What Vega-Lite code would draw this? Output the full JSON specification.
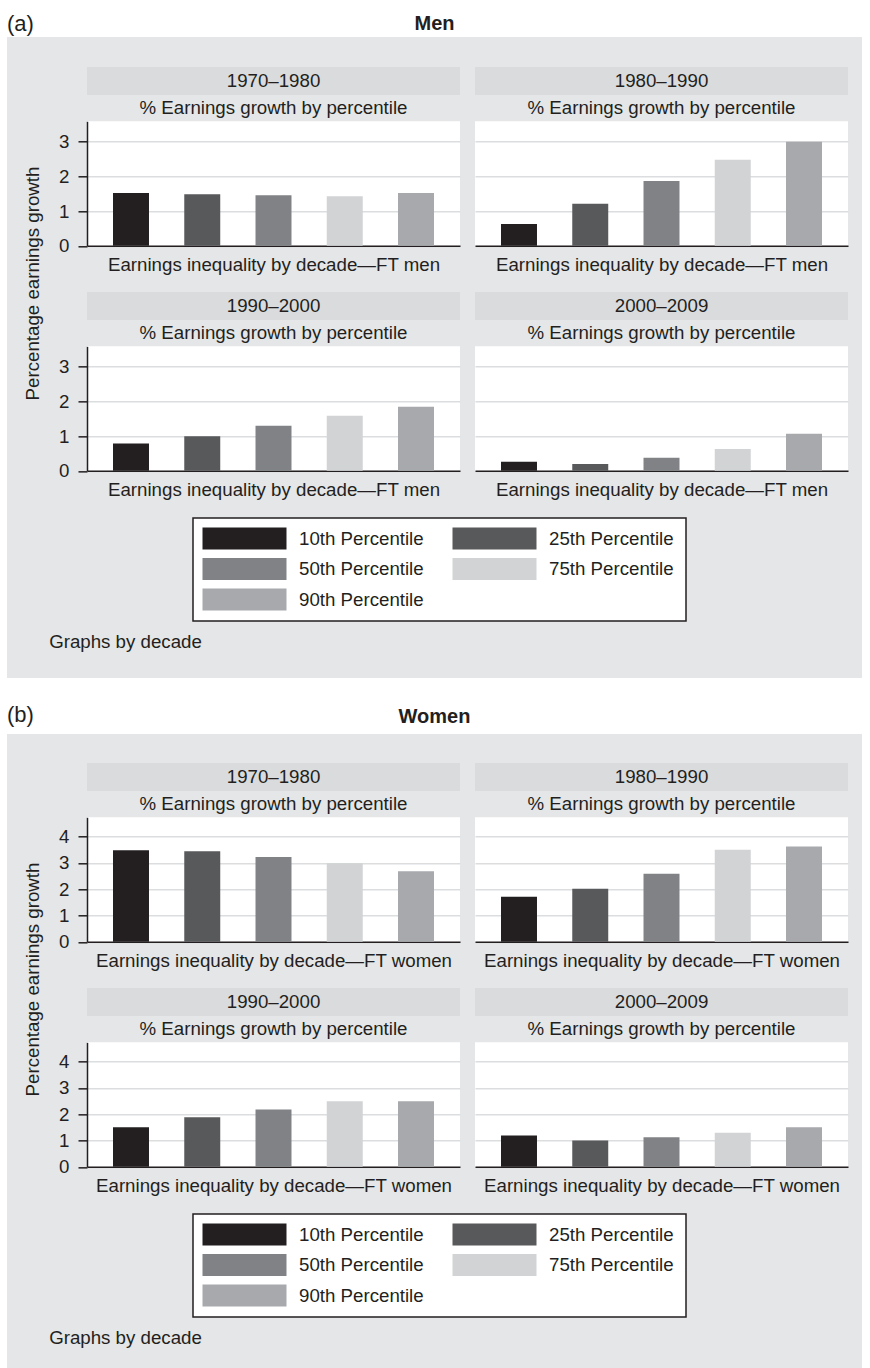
{
  "$schema": "https://vega.github.io/schema/vega-lite/v6.json",
  "background": "#e5e6e8",
  "padding": 0,
  "datasets": {
    "earn": [
      {"sex": "Men", "decade": "1970–1980", "percentile": "10th Percentile", "growth": 1.52},
      {"sex": "Men", "decade": "1970–1980", "percentile": "25th Percentile", "growth": 1.49},
      {"sex": "Men", "decade": "1970–1980", "percentile": "50th Percentile", "growth": 1.46},
      {"sex": "Men", "decade": "1970–1980", "percentile": "75th Percentile", "growth": 1.43},
      {"sex": "Men", "decade": "1970–1980", "percentile": "90th Percentile", "growth": 1.52},
      {"sex": "Men", "decade": "1980–1990", "percentile": "10th Percentile", "growth": 0.63},
      {"sex": "Men", "decade": "1980–1990", "percentile": "25th Percentile", "growth": 1.21},
      {"sex": "Men", "decade": "1980–1990", "percentile": "50th Percentile", "growth": 1.87},
      {"sex": "Men", "decade": "1980–1990", "percentile": "75th Percentile", "growth": 2.48},
      {"sex": "Men", "decade": "1980–1990", "percentile": "90th Percentile", "growth": 3.0},
      {"sex": "Men", "decade": "1990–2000", "percentile": "10th Percentile", "growth": 0.79},
      {"sex": "Men", "decade": "1990–2000", "percentile": "25th Percentile", "growth": 1.0},
      {"sex": "Men", "decade": "1990–2000", "percentile": "50th Percentile", "growth": 1.3},
      {"sex": "Men", "decade": "1990–2000", "percentile": "75th Percentile", "growth": 1.59},
      {"sex": "Men", "decade": "1990–2000", "percentile": "90th Percentile", "growth": 1.85},
      {"sex": "Men", "decade": "2000–2009", "percentile": "10th Percentile", "growth": 0.26},
      {"sex": "Men", "decade": "2000–2009", "percentile": "25th Percentile", "growth": 0.2},
      {"sex": "Men", "decade": "2000–2009", "percentile": "50th Percentile", "growth": 0.38},
      {"sex": "Men", "decade": "2000–2009", "percentile": "75th Percentile", "growth": 0.63},
      {"sex": "Men", "decade": "2000–2009", "percentile": "90th Percentile", "growth": 1.07},
      {"sex": "Women", "decade": "1970–1980", "percentile": "10th Percentile", "growth": 3.48},
      {"sex": "Women", "decade": "1970–1980", "percentile": "25th Percentile", "growth": 3.44},
      {"sex": "Women", "decade": "1970–1980", "percentile": "50th Percentile", "growth": 3.22},
      {"sex": "Women", "decade": "1970–1980", "percentile": "75th Percentile", "growth": 2.98},
      {"sex": "Women", "decade": "1970–1980", "percentile": "90th Percentile", "growth": 2.68},
      {"sex": "Women", "decade": "1980–1990", "percentile": "10th Percentile", "growth": 1.71},
      {"sex": "Women", "decade": "1980–1990", "percentile": "25th Percentile", "growth": 2.02},
      {"sex": "Women", "decade": "1980–1990", "percentile": "50th Percentile", "growth": 2.59},
      {"sex": "Women", "decade": "1980–1990", "percentile": "75th Percentile", "growth": 3.5},
      {"sex": "Women", "decade": "1980–1990", "percentile": "90th Percentile", "growth": 3.62},
      {"sex": "Women", "decade": "1990–2000", "percentile": "10th Percentile", "growth": 1.5},
      {"sex": "Women", "decade": "1990–2000", "percentile": "25th Percentile", "growth": 1.88},
      {"sex": "Women", "decade": "1990–2000", "percentile": "50th Percentile", "growth": 2.18},
      {"sex": "Women", "decade": "1990–2000", "percentile": "75th Percentile", "growth": 2.49},
      {"sex": "Women", "decade": "1990–2000", "percentile": "90th Percentile", "growth": 2.49},
      {"sex": "Women", "decade": "2000–2009", "percentile": "10th Percentile", "growth": 1.19},
      {"sex": "Women", "decade": "2000–2009", "percentile": "25th Percentile", "growth": 1.0},
      {"sex": "Women", "decade": "2000–2009", "percentile": "50th Percentile", "growth": 1.12},
      {"sex": "Women", "decade": "2000–2009", "percentile": "75th Percentile", "growth": 1.3},
      {"sex": "Women", "decade": "2000–2009", "percentile": "90th Percentile", "growth": 1.5}
    ]
  },
  "config": {
    "font": "Liberation Sans",
    "view": {"stroke": null},
    "text": {"font": "Liberation Sans", "fontSize": 18.7, "color": "#231f20"},
    "title": {"font": "Liberation Sans", "fontSize": 18.7, "fontWeight": "normal", "color": "#231f20", "offset": 4, "frame": "group"},
    "axis": {
      "labelFont": "Liberation Sans", "titleFont": "Liberation Sans",
      "labelFontSize": 18.7, "titleFontSize": 18.7, "titleFontWeight": "normal",
      "labelColor": "#231f20", "titleColor": "#231f20",
      "domainColor": "#231f20", "domainWidth": 1.5,
      "tickColor": "#231f20", "tickWidth": 1.5, "tickSize": 9, "labelPadding": 9,
      "gridColor": "#dcdddf", "gridWidth": 1.5
    },
    "axisX": {"labels": false, "ticks": false, "grid": false, "titlePadding": 10}
  },
  "spacing": 0,
  "hconcat": [
    {"width": 7, "height": 1368, "view": {"fill": "white"}, "data": {"values": []}, "mark": "point"},
    {
      "spacing": 0,
      "resolve": {"legend": {"color": "independent"}},
      "vconcat": [
        {
          "width": 855, "height": 37, "view": {"fill": "white"},
          "data": {"values": [{}]},
          "layer": [
            {"mark": {"type": "text", "text": "(a)", "align": "left", "fontSize": 22, "dy": 5.6},
             "encoding": {"x": {"datum": 0, "type": "quantitative", "scale": {"domain": [0, 1]}, "axis": null}}},
            {"mark": {"type": "text", "text": "Men", "fontSize": 20, "fontWeight": "bold", "dy": 5.2}, "encoding": {}}
          ]
        },
        {
          "spacing": 0,
          "resolve": {"legend": {"color": "independent"}},
          "vconcat": [
            {"width": 10, "height": 30, "data": {"values": []}, "mark": "point"},
            {
              "spacing": 0,
              "hconcat": [
                {"width": 51, "height": 433, "data": {"values": [{}]}, "mark": {"type": "text", "text": "Percentage  earnings growth", "angle": 270}, "encoding": {}},
                {
                  "spacing": 17.05,
                  "vconcat": [
                    {
                      "spacing": 15,
                      "hconcat": [
                        {
                          "spacing": 3.3,
                          "vconcat": [
                            {"width": 373, "height": 28, "view": {"fill": "#dadbdd"}, "data": {"values": [{"label": "1970–1980"}]}, "mark": "text", "encoding": {"text": {"field": "label"}}},
                            {
                              "width": 373, "height": 124.5, "view": {"fill": "white"},
                              "title": "% Earnings growth by percentile",
                              "data": {"name": "earn"},
                              "transform": [{"filter": "datum.sex === 'Men' && datum.decade === '1970–1980'"}],
                              "mark": "bar",
                              "encoding": {
                                "x": {"field": "percentile", "type": "nominal", "sort": ["10th Percentile", "25th Percentile", "50th Percentile", "75th Percentile", "90th Percentile"], "scale": {"paddingInner": 0.495, "paddingOuter": 0.365}, "axis": {"title": "Earnings inequality by decade—FT men"}},
                                "y": {"field": "growth", "type": "quantitative", "scale": {"domain": [0, 3.59], "nice": false}, "axis": {"title": null, "values": [0, 1, 2, 3]}},
                                "color": {"field": "percentile", "type": "nominal", "scale": {"domain": ["10th Percentile", "25th Percentile", "50th Percentile", "75th Percentile", "90th Percentile"], "range": ["#231f20", "#58595b", "#808285", "#d1d3d4", "#a7a9ac"]}, "legend": null}
                              }
                            }
                          ]
                        },
                        {
                          "spacing": 3.3,
                          "vconcat": [
                            {"width": 373, "height": 28, "view": {"fill": "#dadbdd"}, "data": {"values": [{"label": "1980–1990"}]}, "mark": "text", "encoding": {"text": {"field": "label"}}},
                            {
                              "width": 373, "height": 124.5, "view": {"fill": "white"},
                              "title": "% Earnings growth by percentile",
                              "data": {"name": "earn"},
                              "transform": [{"filter": "datum.sex === 'Men' && datum.decade === '1980–1990'"}],
                              "mark": "bar",
                              "encoding": {
                                "x": {"field": "percentile", "type": "nominal", "sort": ["10th Percentile", "25th Percentile", "50th Percentile", "75th Percentile", "90th Percentile"], "scale": {"paddingInner": 0.495, "paddingOuter": 0.365}, "axis": {"title": "Earnings inequality by decade—FT men"}},
                                "y": {"field": "growth", "type": "quantitative", "scale": {"domain": [0, 3.59], "nice": false}, "axis": {"title": null, "values": [0, 1, 2, 3], "labels": false, "ticks": false, "domain": false}},
                                "color": {"field": "percentile", "type": "nominal", "scale": {"domain": ["10th Percentile", "25th Percentile", "50th Percentile", "75th Percentile", "90th Percentile"], "range": ["#231f20", "#58595b", "#808285", "#d1d3d4", "#a7a9ac"]}, "legend": null}
                              }
                            }
                          ]
                        }
                      ]
                    },
                    {
                      "spacing": 15,
                      "hconcat": [
                        {
                          "spacing": 3.3,
                          "vconcat": [
                            {"width": 373, "height": 28, "view": {"fill": "#dadbdd"}, "data": {"values": [{"label": "1990–2000"}]}, "mark": "text", "encoding": {"text": {"field": "label"}}},
                            {
                              "width": 373, "height": 124.5, "view": {"fill": "white"},
                              "title": "% Earnings growth by percentile",
                              "data": {"name": "earn"},
                              "transform": [{"filter": "datum.sex === 'Men' && datum.decade === '1990–2000'"}],
                              "mark": "bar",
                              "encoding": {
                                "x": {"field": "percentile", "type": "nominal", "sort": ["10th Percentile", "25th Percentile", "50th Percentile", "75th Percentile", "90th Percentile"], "scale": {"paddingInner": 0.495, "paddingOuter": 0.365}, "axis": {"title": "Earnings inequality by decade—FT men"}},
                                "y": {"field": "growth", "type": "quantitative", "scale": {"domain": [0, 3.59], "nice": false}, "axis": {"title": null, "values": [0, 1, 2, 3]}},
                                "color": {"field": "percentile", "type": "nominal", "scale": {"domain": ["10th Percentile", "25th Percentile", "50th Percentile", "75th Percentile", "90th Percentile"], "range": ["#231f20", "#58595b", "#808285", "#d1d3d4", "#a7a9ac"]}, "legend": null}
                              }
                            }
                          ]
                        },
                        {
                          "spacing": 3.3,
                          "vconcat": [
                            {"width": 373, "height": 28, "view": {"fill": "#dadbdd"}, "data": {"values": [{"label": "2000–2009"}]}, "mark": "text", "encoding": {"text": {"field": "label"}}},
                            {
                              "width": 373, "height": 124.5, "view": {"fill": "white"},
                              "title": "% Earnings growth by percentile",
                              "data": {"name": "earn"},
                              "transform": [{"filter": "datum.sex === 'Men' && datum.decade === '2000–2009'"}],
                              "mark": "bar",
                              "encoding": {
                                "x": {"field": "percentile", "type": "nominal", "sort": ["10th Percentile", "25th Percentile", "50th Percentile", "75th Percentile", "90th Percentile"], "scale": {"paddingInner": 0.495, "paddingOuter": 0.365}, "axis": {"title": "Earnings inequality by decade—FT men"}},
                                "y": {"field": "growth", "type": "quantitative", "scale": {"domain": [0, 3.59], "nice": false}, "axis": {"title": null, "values": [0, 1, 2, 3], "labels": false, "ticks": false, "domain": false}},
                                "color": {"field": "percentile", "type": "nominal", "scale": {"domain": ["10th Percentile", "25th Percentile", "50th Percentile", "75th Percentile", "90th Percentile"], "range": ["#231f20", "#58595b", "#808285", "#d1d3d4", "#a7a9ac"]}, "legend": null}
                              }
                            }
                          ]
                        }
                      ]
                    }
                  ]
                }
              ]
            },
            {"width": 10, "height": 17, "data": {"values": []}, "mark": "point"},
            {
              "spacing": 0,
              "resolve": {"legend": {"color": "independent"}},
              "hconcat": [
                {"width": 185, "height": 10, "data": {"values": []}, "mark": "point"},
                {
                  "width": 493, "height": 103,
                  "view": {"fill": "white", "stroke": "#231f20", "strokeWidth": 1.5},
                  "data": {"values": []},
                  "mark": "bar",
                  "encoding": {
                    "color": {"field": "percentile", "type": "nominal",
                      "scale": {"domain": ["10th Percentile", "25th Percentile", "50th Percentile", "75th Percentile", "90th Percentile"], "range": ["#231f20", "#58595b", "#808285", "#d1d3d4", "#a7a9ac"]},
                      "legend": {"title": null, "orient": "top-left", "direction": "horizontal", "offset": 0, "padding": 9.5, "columns": 2, "columnPadding": 28, "rowPadding": 8.5,
                        "symbolType": "M-3.818,-1H3.818V1H-3.818Z", "symbolSize": 484, "symbolStrokeWidth": 0, "symbolOpacity": 1, "symbolOffset": 31,
                        "labelOffset": 43.5, "labelFontSize": 18.7, "labelFont": "Liberation Sans", "labelColor": "#231f20", "labelLimit": 300}}
                  }
                }
              ]
            },
            {
              "spacing": 0,
              "hconcat": [
                {"width": 42, "height": 10, "data": {"values": []}, "mark": "point"},
                {"width": 151, "height": 40, "data": {"values": [{}]}, "mark": {"type": "text", "text": "Graphs by decade"}, "encoding": {}}
              ]
            },
            {"width": 10, "height": 16, "data": {"values": []}, "mark": "point"}
          ]
        },
        {
          "width": 855, "height": 56, "view": {"fill": "white"},
          "data": {"values": [{}]},
          "layer": [
            {"mark": {"type": "text", "text": "(b)", "align": "left", "fontSize": 22, "dy": 9},
             "encoding": {"x": {"datum": 0, "type": "quantitative", "scale": {"domain": [0, 1]}, "axis": null}}},
            {"mark": {"type": "text", "text": "Women", "fontSize": 20, "fontWeight": "bold", "dy": 11.4}, "encoding": {}}
          ]
        },
        {
          "spacing": 0,
          "resolve": {"legend": {"color": "independent"}},
          "vconcat": [
            {"width": 10, "height": 29, "data": {"values": []}, "mark": "point"},
            {
              "spacing": 0,
              "hconcat": [
                {"width": 51, "height": 433, "data": {"values": [{}]}, "mark": {"type": "text", "text": "Percentage earnings growth", "angle": 270}, "encoding": {}},
                {
                  "spacing": 17.05,
                  "vconcat": [
                    {
                      "spacing": 15,
                      "hconcat": [
                        {
                          "spacing": 3.3,
                          "vconcat": [
                            {"width": 373, "height": 28, "view": {"fill": "#dadbdd"}, "data": {"values": [{"label": "1970–1980"}]}, "mark": "text", "encoding": {"text": {"field": "label"}}},
                            {
                              "width": 373, "height": 124.5, "view": {"fill": "white"},
                              "title": "% Earnings growth by percentile",
                              "data": {"name": "earn"},
                              "transform": [{"filter": "datum.sex === 'Women' && datum.decade === '1970–1980'"}],
                              "mark": "bar",
                              "encoding": {
                                "x": {"field": "percentile", "type": "nominal", "sort": ["10th Percentile", "25th Percentile", "50th Percentile", "75th Percentile", "90th Percentile"], "scale": {"paddingInner": 0.495, "paddingOuter": 0.365}, "axis": {"title": "Earnings inequality by decade—FT women"}},
                                "y": {"field": "growth", "type": "quantitative", "scale": {"domain": [0, 4.73], "nice": false}, "axis": {"title": null, "values": [0, 1, 2, 3, 4]}},
                                "color": {"field": "percentile", "type": "nominal", "scale": {"domain": ["10th Percentile", "25th Percentile", "50th Percentile", "75th Percentile", "90th Percentile"], "range": ["#231f20", "#58595b", "#808285", "#d1d3d4", "#a7a9ac"]}, "legend": null}
                              }
                            }
                          ]
                        },
                        {
                          "spacing": 3.3,
                          "vconcat": [
                            {"width": 373, "height": 28, "view": {"fill": "#dadbdd"}, "data": {"values": [{"label": "1980–1990"}]}, "mark": "text", "encoding": {"text": {"field": "label"}}},
                            {
                              "width": 373, "height": 124.5, "view": {"fill": "white"},
                              "title": "% Earnings growth by percentile",
                              "data": {"name": "earn"},
                              "transform": [{"filter": "datum.sex === 'Women' && datum.decade === '1980–1990'"}],
                              "mark": "bar",
                              "encoding": {
                                "x": {"field": "percentile", "type": "nominal", "sort": ["10th Percentile", "25th Percentile", "50th Percentile", "75th Percentile", "90th Percentile"], "scale": {"paddingInner": 0.495, "paddingOuter": 0.365}, "axis": {"title": "Earnings inequality by decade—FT women"}},
                                "y": {"field": "growth", "type": "quantitative", "scale": {"domain": [0, 4.73], "nice": false}, "axis": {"title": null, "values": [0, 1, 2, 3, 4], "labels": false, "ticks": false, "domain": false}},
                                "color": {"field": "percentile", "type": "nominal", "scale": {"domain": ["10th Percentile", "25th Percentile", "50th Percentile", "75th Percentile", "90th Percentile"], "range": ["#231f20", "#58595b", "#808285", "#d1d3d4", "#a7a9ac"]}, "legend": null}
                              }
                            }
                          ]
                        }
                      ]
                    },
                    {
                      "spacing": 15,
                      "hconcat": [
                        {
                          "spacing": 3.3,
                          "vconcat": [
                            {"width": 373, "height": 28, "view": {"fill": "#dadbdd"}, "data": {"values": [{"label": "1990–2000"}]}, "mark": "text", "encoding": {"text": {"field": "label"}}},
                            {
                              "width": 373, "height": 124.5, "view": {"fill": "white"},
                              "title": "% Earnings growth by percentile",
                              "data": {"name": "earn"},
                              "transform": [{"filter": "datum.sex === 'Women' && datum.decade === '1990–2000'"}],
                              "mark": "bar",
                              "encoding": {
                                "x": {"field": "percentile", "type": "nominal", "sort": ["10th Percentile", "25th Percentile", "50th Percentile", "75th Percentile", "90th Percentile"], "scale": {"paddingInner": 0.495, "paddingOuter": 0.365}, "axis": {"title": "Earnings inequality by decade—FT women"}},
                                "y": {"field": "growth", "type": "quantitative", "scale": {"domain": [0, 4.73], "nice": false}, "axis": {"title": null, "values": [0, 1, 2, 3, 4]}},
                                "color": {"field": "percentile", "type": "nominal", "scale": {"domain": ["10th Percentile", "25th Percentile", "50th Percentile", "75th Percentile", "90th Percentile"], "range": ["#231f20", "#58595b", "#808285", "#d1d3d4", "#a7a9ac"]}, "legend": null}
                              }
                            }
                          ]
                        },
                        {
                          "spacing": 3.3,
                          "vconcat": [
                            {"width": 373, "height": 28, "view": {"fill": "#dadbdd"}, "data": {"values": [{"label": "2000–2009"}]}, "mark": "text", "encoding": {"text": {"field": "label"}}},
                            {
                              "width": 373, "height": 124.5, "view": {"fill": "white"},
                              "title": "% Earnings growth by percentile",
                              "data": {"name": "earn"},
                              "transform": [{"filter": "datum.sex === 'Women' && datum.decade === '2000–2009'"}],
                              "mark": "bar",
                              "encoding": {
                                "x": {"field": "percentile", "type": "nominal", "sort": ["10th Percentile", "25th Percentile", "50th Percentile", "75th Percentile", "90th Percentile"], "scale": {"paddingInner": 0.495, "paddingOuter": 0.365}, "axis": {"title": "Earnings inequality by decade—FT women"}},
                                "y": {"field": "growth", "type": "quantitative", "scale": {"domain": [0, 4.73], "nice": false}, "axis": {"title": null, "values": [0, 1, 2, 3, 4], "labels": false, "ticks": false, "domain": false}},
                                "color": {"field": "percentile", "type": "nominal", "scale": {"domain": ["10th Percentile", "25th Percentile", "50th Percentile", "75th Percentile", "90th Percentile"], "range": ["#231f20", "#58595b", "#808285", "#d1d3d4", "#a7a9ac"]}, "legend": null}
                              }
                            }
                          ]
                        }
                      ]
                    }
                  ]
                }
              ]
            },
            {"width": 10, "height": 17, "data": {"values": []}, "mark": "point"},
            {
              "spacing": 0,
              "resolve": {"legend": {"color": "independent"}},
              "hconcat": [
                {"width": 185, "height": 10, "data": {"values": []}, "mark": "point"},
                {
                  "width": 493, "height": 103,
                  "view": {"fill": "white", "stroke": "#231f20", "strokeWidth": 1.5},
                  "data": {"values": []},
                  "mark": "bar",
                  "encoding": {
                    "color": {"field": "percentile", "type": "nominal",
                      "scale": {"domain": ["10th Percentile", "25th Percentile", "50th Percentile", "75th Percentile", "90th Percentile"], "range": ["#231f20", "#58595b", "#808285", "#d1d3d4", "#a7a9ac"]},
                      "legend": {"title": null, "orient": "top-left", "direction": "horizontal", "offset": 0, "padding": 9.5, "columns": 2, "columnPadding": 28, "rowPadding": 8.5,
                        "symbolType": "M-3.818,-1H3.818V1H-3.818Z", "symbolSize": 484, "symbolStrokeWidth": 0, "symbolOpacity": 1, "symbolOffset": 31,
                        "labelOffset": 43.5, "labelFontSize": 18.7, "labelFont": "Liberation Sans", "labelColor": "#231f20", "labelLimit": 300}}
                  }
                }
              ]
            },
            {
              "spacing": 0,
              "hconcat": [
                {"width": 42, "height": 10, "data": {"values": []}, "mark": "point"},
                {"width": 151, "height": 40, "data": {"values": [{}]}, "mark": {"type": "text", "text": "Graphs by decade"}, "encoding": {}}
              ]
            },
            {"width": 10, "height": 14, "data": {"values": []}, "mark": "point"}
          ]
        }
      ]
    },
    {"width": 8, "height": 1368, "view": {"fill": "white"}, "data": {"values": []}, "mark": "point"}
  ]
}
